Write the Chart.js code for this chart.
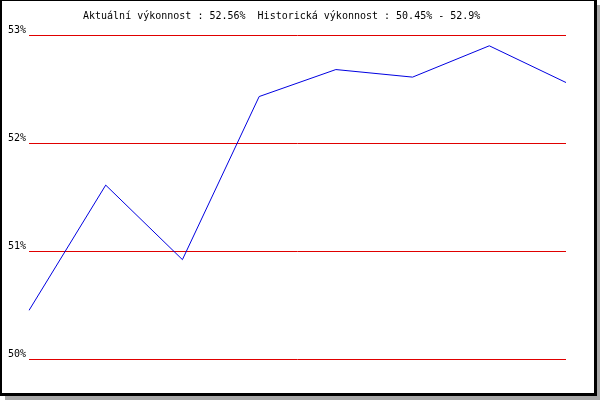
<!DOCTYPE html>
<html>
<head>
<meta charset="utf-8">
<script src="https://cdn.jsdelivr.net/npm/chart.js@4"></script>
<style>
  html, body { margin: 0; padding: 0; background: #fff; }
  #wrap { width: 600px; height: 400px; }
</style>
</head>
<body>
<div id="wrap"><canvas id="perfChart" width="600" height="400"></canvas></div>
<script>
// data
var periods = ["1", "2", "3", "4", "5", "6", "7", "8"];
var performance = [50.45, 51.61, 50.92, 52.43, 52.68, 52.61, 52.9, 52.56];
var yTicks = [50, 51, 52, 53];
var titleText = "Aktuální výkonnost : 52.56%  Historická výkonnost : 50.45% - 52.9%";

var FONT = "10px 'DejaVu Sans Mono', monospace";

// frame with drop shadow + title line
var framePlugin = {
  id: "frame",
  beforeDraw: function (chart) {
    var ctx = chart.ctx;
    ctx.save();
    ctx.fillStyle = "#ffffff";
    ctx.fillRect(0, 0, 600, 400);
    ctx.fillStyle = "#a8a8a8";
    ctx.fillRect(5, 5, 595, 395);
    ctx.fillStyle = "#000000";
    ctx.fillRect(0, 0, 597, 396);
    ctx.fillStyle = "#ffffff";
    ctx.fillRect(2, 1, 592, 392);
    ctx.restore();
  },
  afterDraw: function (chart) {
    var ctx = chart.ctx;
    ctx.save();
    ctx.font = FONT;
    ctx.fillStyle = "#000000";
    ctx.textAlign = "left";
    ctx.textBaseline = "alphabetic";
    ctx.fillText(titleText, 83, 19);
    ctx.restore();
  }
};

new Chart(document.getElementById("perfChart").getContext("2d"), {
  type: "line",
  data: {
    labels: periods,
    datasets: [
      {
        data: performance,
        borderColor: "#0000e0",
        borderWidth: 1,
        pointRadius: 0,
        tension: 0,
        fill: false
      }
    ]
  },
  options: {
    responsive: false,
    animation: false,
    devicePixelRatio: 1,
    layout: {
      padding: { left: 0, right: 34, top: 35, bottom: 41 }
    },
    plugins: {
      legend: { display: false },
      title: { display: false },
      tooltip: { enabled: false }
    },
    scales: {
      x: {
        type: "category",
        offset: false,
        display: false
      },
      y: {
        min: 50,
        max: 53,
        afterBuildTicks: function (scale) {
          scale.ticks = yTicks.map(function (v) { return { value: v }; });
        },
        afterFit: function (scale) {
          scale.width = 29;
          scale.paddingTop = 0;
          scale.paddingBottom = 0;
        },
        border: { display: false },
        grid: {
          color: "#e00000",
          lineWidth: 1,
          drawTicks: false
        },
        ticks: {
          padding: 3,
          labelOffset: -5,
          color: "#000000",
          font: { family: "'DejaVu Sans Mono', monospace", size: 10 },
          callback: function (value) {
            return value + "%";
          }
        }
      }
    }
  },
  plugins: [framePlugin]
});
</script>
</body>
</html>
